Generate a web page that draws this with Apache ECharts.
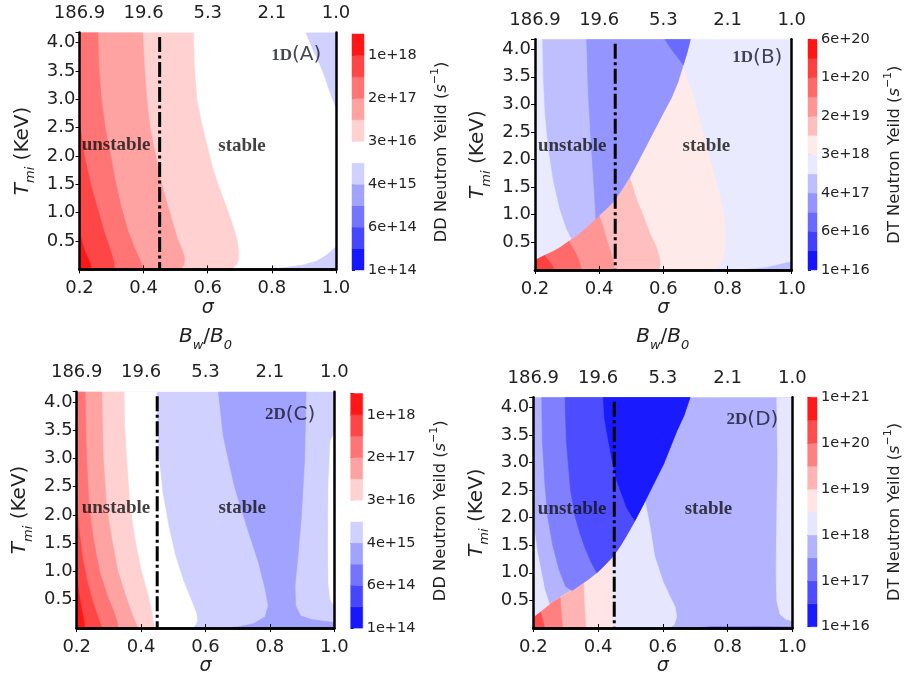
<!DOCTYPE html>
<html>
<head>
<meta charset="utf-8">
<script src="https://cdn.jsdelivr.net/npm/echarts@6/dist/echarts.min.js"></script>
<style>
  html, body { margin: 0; padding: 0; background: #fff; }
  #chart { width: 904px; height: 677px; }
</style>
</head>
<body>
<div id="chart"></div>
<script>
// ---- axis ticks -----------------------------------------------------------
const sigmaTicks = [0.2, 0.4, 0.6, 0.8, 1.0];
const bwRatioLabels = ['186.9', '19.6', '5.3', '2.1', '1.0'];   // B_w/B_0 at each sigma tick
const T_MAX = 4.18;
const stabilitySigma = 0.45;
const stabilityTop = 4.1;

// ---- colour bar levels (labelled at every second level boundary) ----------
const ddLevelLabels = ['1e+14', '6e+14', '4e+15', '3e+16', '2e+17', '1e+18'];
const dt1DLevelLabels = ['1e+16', '6e+16', '4e+17', '3e+18', '2e+19', '1e+20', '6e+20'];
const dt2DLevelLabels = ['1e+16', '1e+17', '1e+18', '1e+19', '1e+20', '1e+21'];
const ddBandCount = 11;
const dt1DBandCount = 12;
const dt2DBandCount = 10;

// ---- 1D DD yield: contour boundaries [sigma, T] ---------------------------
const A_b65 = [[0.555,4.18],[0.558,3.6],[0.566,3.0],[0.58,2.6],[0.597,2.2],[0.615,1.8],[0.632,1.5],[0.652,1.2],[0.669,0.93],[0.683,0.7],[0.692,0.5],[0.697,0.3],[0.696,0.17],[0.69,0.08],[0.675,0]];
const A_b76 = [[0.397,4.18],[0.402,3.6],[0.41,3.0],[0.42,2.5],[0.434,2.1],[0.452,1.6],[0.476,1.1],[0.495,0.75],[0.507,0.52],[0.52,0.35],[0.528,0.2],[0.526,0.08],[0.515,0]];
const A_b87 = [[0.257,4.18],[0.26,3.6],[0.268,3.0],[0.28,2.5],[0.294,2.1],[0.31,1.6],[0.33,1.1],[0.35,0.7],[0.37,0.4],[0.39,0.15],[0.4,0]];
const A_b98 = [[0.2,2.6],[0.215,2.0],[0.235,1.5],[0.255,1.1],[0.275,0.7],[0.293,0.4],[0.305,0.18],[0.31,0]];
const A_b109 = [[0.2,0.65],[0.215,0.35],[0.232,0.12],[0.238,0]];
const A_lowTop = [[0.906,4.18],[0.93,3.85],[0.948,3.64],[0.965,3.4],[0.979,3.16],[0.99,3.0],[1.0,2.84],[1.0,4.18]];
const A_lowBottom = [[0.785,0],[0.85,0.04],[0.9,0.08],[0.94,0.15],[0.97,0.25],[1.0,0.4],[1.0,0]];

// ---- 1D DT yield ------------------------------------------------------------
const B_edge = [[0.2,0.17],[0.23,0.26],[0.256,0.33],[0.28,0.41],[0.3,0.49],[0.325,0.6],[0.35,0.72],[0.375,0.85],[0.4,0.99],[0.425,1.12],[0.448,1.26],[0.47,1.45],[0.495,1.68],[0.52,1.95],[0.56,2.4],[0.6,2.85],[0.625,3.12],[0.645,3.4],[0.662,3.72],[0.674,3.95],[0.684,4.18]];
const B_b65 = [[0.662,3.72],[0.672,3.5],[0.683,3.3],[0.7,3.0],[0.724,2.48],[0.745,2.0],[0.766,1.57],[0.782,1.2],[0.789,0.97],[0.793,0.7],[0.792,0.42],[0.786,0.22],[0.776,0.1],[0.76,0]];
const B_b76 = [[0.495,1.68],[0.505,1.5],[0.517,1.27],[0.537,0.99],[0.558,0.66],[0.578,0.42],[0.589,0.2],[0.59,0.1],[0.585,0]];
const B_b87 = [[0.4,0.99],[0.412,0.78],[0.422,0.57],[0.435,0.35],[0.443,0.18],[0.447,0]];
const B_b98 = [[0.305,0.52],[0.322,0.36],[0.335,0.2],[0.345,0]];
const B_b109 = [[0.23,0.26],[0.245,0.15],[0.255,0.06],[0.26,0]];
const B_b54 = [[0.224,4.18],[0.226,3.5],[0.232,2.8],[0.242,2.2],[0.258,1.6],[0.278,1.1],[0.298,0.75],[0.315,0.56]];
const B_b43 = [[0.361,4.18],[0.366,3.2],[0.374,2.4],[0.381,1.78],[0.386,1.3],[0.39,0.92]];
const B_b32 = [[0.605,4.18],[0.625,4.0],[0.645,3.85],[0.662,3.72]];
const B_lowBottom = [[0.84,0],[0.92,0.04],[1.0,0.15],[1.0,0]];

// ---- 2D DD yield ------------------------------------------------------------
const C_b109 = [[0.2,0.9],[0.207,0.6],[0.215,0.35],[0.222,0.15],[0.226,0]];
const C_b98 = [[0.2,2.2],[0.208,1.7],[0.218,1.25],[0.232,0.85],[0.248,0.5],[0.265,0.22],[0.278,0]];
const C_b87 = [[0.226,4.18],[0.228,3.6],[0.23,3.07],[0.238,2.18],[0.251,1.6],[0.271,1.0],[0.297,0.54],[0.315,0.3],[0.325,0.12],[0.329,0]];
const C_b76 = [[0.278,4.18],[0.28,3.6],[0.282,3.07],[0.292,2.18],[0.308,1.6],[0.328,1.0],[0.354,0.54],[0.375,0.2],[0.385,0.07],[0.391,0]];
const C_b65 = [[0.347,4.18],[0.349,3.6],[0.354,3.07],[0.365,2.18],[0.38,1.6],[0.401,1.0],[0.421,0.6],[0.433,0.3],[0.437,0.12],[0.442,0]];
const C_b54 = [[0.448,4.18],[0.45,3.5],[0.455,3.0],[0.466,2.4],[0.485,1.8],[0.505,1.3],[0.53,0.85],[0.555,0.5],[0.572,0.25],[0.574,0.12],[0.565,0.03],[0.555,0]];
const C_b43left = [[0.64,4.18],[0.655,3.4],[0.69,2.5],[0.728,1.8],[0.765,1.15],[0.785,0.7],[0.795,0.4],[0.785,0.2],[0.75,0.08],[0.7,0.02],[0.66,0]];
const C_b43right = [[0.912,4.18],[0.908,3.0],[0.898,2.0],[0.886,1.2],[0.878,0.75],[0.88,0.4],[0.895,0.22],[0.93,0.15],[0.97,0.12],[1.0,0.1]];
const C_edgeStrip = [[1.0,3.45],[0.988,3.3],[0.982,2.5],[0.981,1.5],[0.982,0.8],[0.988,0.5],[1.0,0.4]];

// ---- 2D DT yield ------------------------------------------------------------
const D_edge = [[0.2,0.2],[0.222,0.3],[0.25,0.43],[0.29,0.58],[0.32,0.68],[0.345,0.78],[0.37,0.88],[0.396,1.0],[0.414,1.1],[0.445,1.29],[0.47,1.5],[0.5,1.8],[0.514,1.95],[0.53,2.13],[0.545,2.3],[0.561,2.49],[0.602,2.97],[0.643,3.57],[0.665,3.85],[0.684,4.18]];
const D_b43 = [[0.545,2.3],[0.56,1.85],[0.575,1.3],[0.6,0.85],[0.62,0.6],[0.638,0.38],[0.643,0.2],[0.635,0.06],[0.62,0]];
const D_b54 = [[0.445,1.29],[0.446,0.9],[0.447,0.5],[0.448,0]];
const D_b65 = [[0.355,0.82],[0.357,0.5],[0.36,0.2],[0.362,0]];
const D_b76 = [[0.283,0.55],[0.286,0.3],[0.29,0]];
const D_b87 = [[0.222,0.3],[0.23,0.12],[0.235,0]];
const D_b43low = [[0.2,1.9],[0.212,1.4],[0.225,1.0],[0.235,0.7],[0.25,0.43]];
const D_b32 = [[0.226,4.18],[0.228,3.4],[0.236,2.6],[0.245,2.0],[0.26,1.5],[0.28,1.05],[0.3,0.75],[0.32,0.68]];
const D_b21 = [[0.298,4.18],[0.302,3.4],[0.315,2.5],[0.33,2.0],[0.345,1.7],[0.36,1.45],[0.378,1.2],[0.396,1.0]];
const D_b10 = [[0.416,4.18],[0.42,3.8],[0.432,3.39],[0.445,3.0],[0.458,2.67],[0.475,2.4],[0.488,2.19],[0.505,2.02],[0.514,1.95]];
const D_rightStrip = [[0.952,4.18],[0.955,3.0],[0.952,2.0],[0.95,1.0],[0.952,0.5],[0.962,0.25],[0.98,0.16],[1.0,0.13],[1.0,4.18]];
const D_bottomStrip = [[0.7,0],[0.75,0.025],[0.9,0.03],[1.0,0.02],[1.0,0]];

// ---- helpers for assembling filled regions --------------------------------
const fullBox = [[0.2,0],[0.2,T_MAX],[1.0,T_MAX],[1.0,0]];
const fromLeft = b => [[0.2,0],[0.2,T_MAX]].concat(b);
const fromCorner = b => [[0.2,0]].concat(b);
const edgeBelow = (edge, s) => edge.filter(p => p[0] < s - 1e-9);
const edgeAbove = (edge, s) => edge.filter(p => p[0] > s + 1e-9);

// matplotlib "bwr" colour for a filled band
function bandColor(i, n) {
  const t = (i + 0.5) / n;
  let r, g, b;
  if (t < 0.5) { r = g = Math.round(2 * t * 255); b = 255; }
  else { r = 255; g = b = Math.round((2 - 2 * t) * 255); }
  return 'rgb(' + r + ',' + g + ',' + b + ')';
}

// painted in order, later regions on top: [band, outline]
const regionsA = [
  [5, fullBox], [4, A_lowTop], [4, A_lowBottom],
  [6, fromLeft(A_b65)], [7, fromLeft(A_b76)], [8, fromLeft(A_b87)],
  [9, fromCorner(A_b98)], [10, fromCorner(A_b109)]
];
const regionsB = [
  [5, fullBox], [4, B_lowBottom],
  [6, [[0.2,0]].concat(edgeBelow(B_edge, 0.662), B_b65)],
  [7, [[0.2,0]].concat(edgeBelow(B_edge, 0.495), B_b76)],
  [8, [[0.2,0]].concat(edgeBelow(B_edge, 0.4), B_b87)],
  [9, [[0.2,0]].concat(edgeBelow(B_edge, 0.305), B_b98)],
  [10, [[0.2,0]].concat(edgeBelow(B_edge, 0.23), B_b109)],
  [4, B_b54.concat(edgeAbove(B_edge, 0.315))],
  [3, B_b43.concat(edgeAbove(B_edge, 0.39))],
  [2, B_b32.concat(edgeAbove(B_edge, 0.662))]
];
const regionsC = [
  [4, fullBox],
  [3, C_b43left.concat([[1.0,0]], C_b43right.slice().reverse())],
  [5, C_edgeStrip],
  [5, fromLeft(C_b54)], [6, fromLeft(C_b65)], [7, fromLeft(C_b76)], [8, fromLeft(C_b87)],
  [9, fromCorner(C_b98)], [10, fromCorner(C_b109)]
];
const regionsD = [
  [3, fullBox], [4, D_rightStrip], [2, D_bottomStrip],
  [4, [[0.2,0]].concat(edgeBelow(D_edge, 0.545), D_b43)],
  [5, [[0.2,0]].concat(edgeBelow(D_edge, 0.445), D_b54)],
  [6, [[0.2,0]].concat(edgeBelow(D_edge, 0.355), D_b65)],
  [7, [[0.2,0]].concat(edgeBelow(D_edge, 0.283), D_b76)],
  [8, [[0.2,0]].concat(edgeBelow(D_edge, 0.222), D_b87)],
  [4, D_b43low.concat(edgeBelow(D_edge, 0.25).reverse())],
  [2, D_b32.concat(edgeAbove(D_edge, 0.32))],
  [1, D_b21.concat(edgeAbove(D_edge, 0.396))],
  [0, D_b10.concat(edgeAbove(D_edge, 0.514))]
];

const SANS = 'DejaVu Sans';
const SERIF = 'Liberation Serif';

const panels = [
  { grid: {left: 79.5, top: 32.5, width: 256.5, height: 236.9},
    bar: {left: 352, top: 34, width: 12, height: 236},
    n: ddBandCount, levels: ddLevelLabels, quantity: 'DD', regions: regionsA,
    tag: '1D', letter: '(A)', tagAt: [0.876, 3.78], unstableAt: [0.314, 2.19], stableAt: [0.707, 2.17], bwName: false },
  { grid: {left: 535, top: 39.3, width: 256.7, height: 230.6},
    bar: {left: 808, top: 39.3, width: 11, height: 230.6},
    n: dt1DBandCount, levels: dt1DLevelLabels, quantity: 'DT', regions: regionsB,
    tag: '1D', letter: '(B)', tagAt: [0.893, 3.85], unstableAt: [0.316, 2.25], stableAt: [0.734, 2.25], bwName: false },
  { grid: {left: 76.7, top: 391.7, width: 257.6, height: 236.6},
    bar: {left: 350.7, top: 393.5, width: 12, height: 234.6},
    n: ddBandCount, levels: ddLevelLabels, quantity: 'DD', regions: regionsC,
    tag: '2D', letter: '(C)', tagAt: [0.863, 3.78], unstableAt: [0.322, 2.13], stableAt: [0.714, 2.12], bwName: true },
  { grid: {left: 533.3, top: 397.3, width: 259, height: 230.7},
    bar: {left: 807.7, top: 397.3, width: 12.3, height: 229.4},
    n: dt2DBandCount, levels: dt2DLevelLabels, quantity: 'DT', regions: regionsD,
    tag: '2D', letter: '(D)', tagAt: [0.877, 3.77], unstableAt: [0.32, 2.16], stableAt: [0.741, 2.16], bwName: true }
];

const grid = [], xAxis = [], yAxis = [], series = [];
const frame = {show: true, lineStyle: {color: '#000', width: 2.5}};
const tickOut = {show: true, inside: false, length: 4, lineStyle: {color: '#000', width: 1}};

panels.forEach(p => grid.push(Object.assign({containLabel: false}, p.grid)));
panels.forEach(p => grid.push(Object.assign({containLabel: false}, p.bar)));

panels.forEach((p, k) => {
  // bottom sigma axis
  xAxis.push({
    gridIndex: k, type: 'value', position: 'bottom', min: sigmaTicks[0], max: sigmaTicks[sigmaTicks.length - 1],
    interval: 0.2, z: 10, axisLine: frame, axisTick: tickOut, splitLine: {show: false},
    axisLabel: {fontFamily: SANS, fontSize: 18, color: '#222', margin: 10, formatter: v => v.toFixed(1)},
    name: 'σ', nameLocation: 'middle', nameGap: 28,
    nameTextStyle: {fontFamily: SANS, fontSize: 19, fontStyle: 'italic', color: '#222'}
  });
  // top B_w/B_0 axis
  const top = {
    gridIndex: k, type: 'value', position: 'top', min: sigmaTicks[0], max: sigmaTicks[sigmaTicks.length - 1],
    interval: 0.2, z: 10, axisLine: frame, axisTick: tickOut, splitLine: {show: false},
    axisLabel: {fontFamily: SANS, fontSize: 18, color: '#222', margin: 10,
      formatter: v => bwRatioLabels[Math.round((v - sigmaTicks[0]) / 0.2)] || ''}
  };
  if (p.bwName) {
    top.name = '{i|B}{s|w}{n|/}{i|B}{s|0}';
    top.nameLocation = 'middle';
    top.nameGap = p.grid.top - 352;
    top.nameTextStyle = {color: '#222', rich: {
      i: {fontFamily: SANS, fontSize: 20, fontStyle: 'italic', color: '#222'},
      n: {fontFamily: SANS, fontSize: 20, color: '#222'},
      s: {fontFamily: SANS, fontSize: 13, fontStyle: 'italic', color: '#222', verticalAlign: 'bottom', lineHeight: 30}
    }};
  }
  xAxis.push(top);
});
panels.forEach((p, k) => {
  xAxis.push({gridIndex: 4 + k, type: 'value', min: 0, max: 1, show: false});
});

panels.forEach((p, k) => {
  yAxis.push({
    gridIndex: k, type: 'value', position: 'left', min: 0, max: T_MAX, interval: 0.5, z: 10,
    axisLine: frame, axisTick: tickOut, splitLine: {show: false},
    axisLabel: {fontFamily: SANS, fontSize: 18, color: '#222', margin: 4, showMinLabel: false,
      formatter: v => (v > 0.01 && v < 4.05) ? v.toFixed(1) : ''},
    name: '{t|T}{s|mi}{n| (KeV)}', nameLocation: 'middle', nameGap: 42, nameRotate: 90,
    nameTextStyle: {color: '#222', rich: {
      t: {fontFamily: SANS, fontSize: 20, fontStyle: 'italic', color: '#222'},
      s: {fontFamily: SANS, fontSize: 13, fontStyle: 'italic', color: '#222', verticalAlign: 'bottom', lineHeight: 30},
      n: {fontFamily: SANS, fontSize: 20, color: '#222'}
    }}
  });
  yAxis.push({
    gridIndex: k, type: 'value', position: 'right', min: 0, max: T_MAX, z: 10,
    axisLine: frame, axisTick: {show: false}, axisLabel: {show: false}, splitLine: {show: false}
  });
});
panels.forEach((p, k) => {
  yAxis.push({
    gridIndex: 4 + k, type: 'value', position: 'right', min: 0, max: p.n, interval: 2,
    axisLine: {show: false}, splitLine: {show: false},
    axisTick: {show: true, length: 3, lineStyle: {color: '#222', width: 1}},
    axisLabel: {fontFamily: SANS, fontSize: 14.5, color: '#222', margin: 4,
      formatter: v => (Math.abs(v % 2) < 1e-9 ? (p.levels[Math.round(v / 2)] || '') : '')},
    name: '{n|' + p.quantity + ' Neutron Yeild (}{i|s}{p|−1}{n|)}', nameLocation: 'middle', nameRotate: 90, nameGap: 66,
    nameTextStyle: {color: '#222', rich: {
      n: {fontFamily: SANS, fontSize: 16.3, color: '#222'},
      i: {fontFamily: SANS, fontSize: 16.3, fontStyle: 'italic', color: '#222'},
      p: {fontFamily: SANS, fontSize: 11, color: '#222', verticalAlign: 'top', lineHeight: 24}
    }}
  });
});

panels.forEach((p, k) => {
  const regions = p.regions;
  series.push({
    type: 'custom', xAxisIndex: 2 * k, yAxisIndex: 2 * k, clip: true, z: 2, silent: true,
    data: regions.map(r => r[1][0]),
    renderItem: (params, api) => {
      const r = regions[params.dataIndex];
      const c = bandColor(r[0], p.n);
      return {type: 'polygon', shape: {points: r[1].map(pt => api.coord(pt))},
        style: {fill: c, stroke: c, lineWidth: 0.6}};
    }
  });
  // stability threshold
  series.push({
    type: 'line', xAxisIndex: 2 * k, yAxisIndex: 2 * k, z: 5, silent: true, symbol: 'none',
    data: [[stabilitySigma, stabilityTop], [stabilitySigma, 0]],
    lineStyle: {color: '#000', width: 3, type: [15, 3.5, 3, 3.5]}
  });
  // region annotations
  series.push({
    type: 'scatter', xAxisIndex: 2 * k, yAxisIndex: 2 * k, z: 12, silent: true,
    symbolSize: 1, itemStyle: {color: 'rgba(0,0,0,0)'},
    label: {show: true, position: 'inside', color: '#111',
      fontFamily: SERIF, fontWeight: 'bold', fontSize: 19},
    data: [
      {value: p.unstableAt, label: {formatter: 'unstable'}},
      {value: p.stableAt, label: {formatter: 'stable'}},
      {value: p.tagAt, label: {formatter: '{a|' + p.tag + '}{b|' + p.letter + '}', rich: {
        a: {fontFamily: SERIF, fontWeight: 'bold', fontSize: 17, color: '#161628'},
        b: {fontFamily: SANS, fontWeight: 'normal', fontSize: 20, color: '#161628'}
      }}}
    ]
  });
  // colour bar
  const bandIndex = Array.from({length: p.n}, (_, i) => i);
  series.push({
    type: 'custom', xAxisIndex: 8 + k, yAxisIndex: 8 + k, silent: true,
    data: bandIndex.map(i => [0, i]),
    renderItem: (params, api) => {
      const i = api.value(1);
      const a = api.coord([0, i]);
      const b = api.coord([1, i + 1]);
      const c = bandColor(i, p.n);
      return {type: 'rect', shape: {x: a[0], y: b[1], width: b[0] - a[0], height: a[1] - b[1]},
        style: {fill: c, stroke: c, lineWidth: 0.5}};
    }
  });
});

const chart = echarts.init(document.getElementById('chart'));
chart.setOption({
  backgroundColor: '#fff',
  animation: false,
  textStyle: {fontFamily: SANS},
  grid, xAxis, yAxis, series
});
</script>
</body>
</html>
